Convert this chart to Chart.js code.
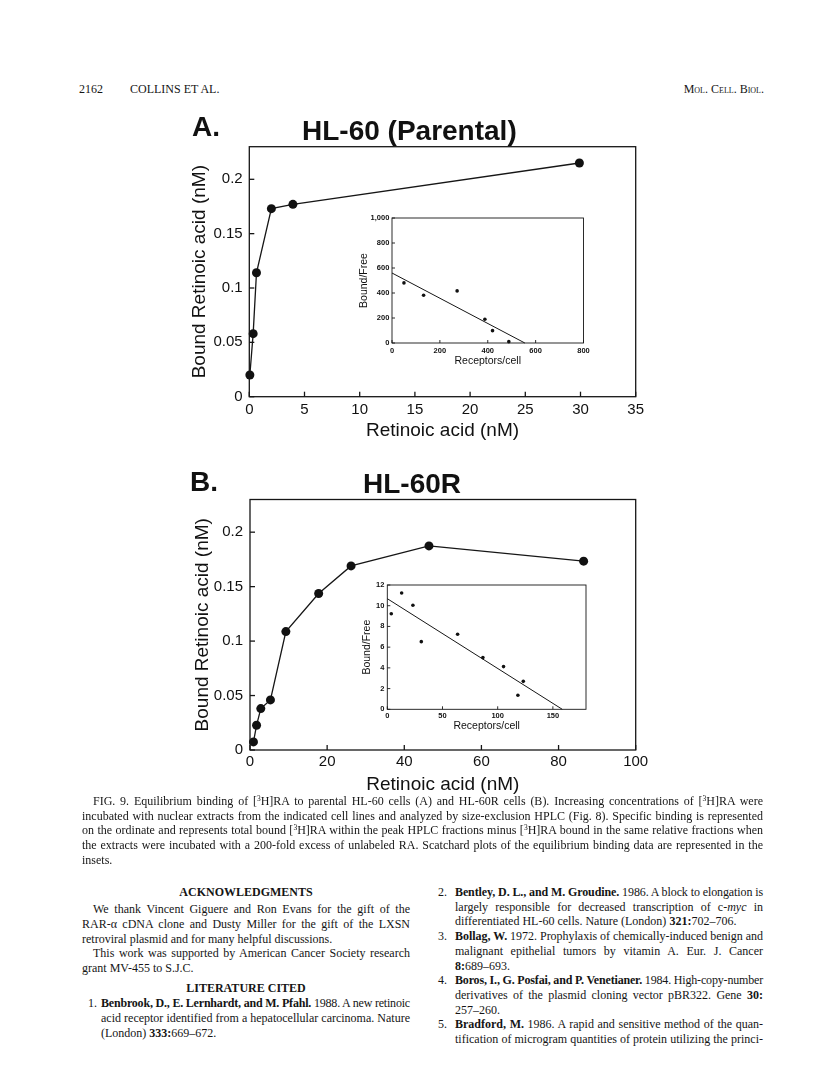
<!DOCTYPE html>
<html><head><meta charset="utf-8">
<script src="https://cdn.jsdelivr.net/npm/chart.js@4.4.0/dist/chart.umd.min.js"></script>
<style>
html,body{margin:0;padding:0;background:#fff;}
body{width:816px;height:1081px;position:relative;overflow:hidden;}
canvas{position:absolute;}
.t{position:absolute;white-space:nowrap;font-family:"Liberation Serif","Times New Roman",serif;font-size:12px;line-height:14px;height:14px;color:#151515;}
.h{position:absolute;white-space:nowrap;font-family:"Liberation Sans",Arial,sans-serif;font-weight:bold;font-size:28px;line-height:28px;color:#111;}
sup{font-size:7.5px;line-height:0;vertical-align:4px;}
.sc{font-variant:small-caps;}
</style></head><body>

<canvas id="cA" width="480" height="305" style="left:170px;top:140px"></canvas>
<canvas id="cB" width="480" height="305" style="left:170px;top:495px"></canvas>
<canvas id="iA" width="256" height="167" style="left:340px;top:208px"></canvas>
<canvas id="iB" width="260" height="165" style="left:340px;top:575px"></canvas>

<div class="h" style="left:192px;top:113px">A.</div>
<div class="h" style="left:302px;top:117px">HL-60 (Parental)</div>
<div class="h" style="left:190px;top:468px">B.</div>
<div class="h" style="left:363px;top:470px">HL-60R</div>

<div class="t" style="left:79px;top:82px">2162</div>
<div class="t" style="left:130px;top:82px">COLLINS ET AL.</div>
<div class="t sc" style="right:52px;top:82px">Mol. Cell. Biol.</div>

<div id="text"></div>

<script>
// ---------------- DATA ----------------
// Panel A: HL-60 (Parental)
const mainAX = [0.05, 0.35, 0.65, 2.0, 3.95, 29.9];
const mainAY = [0.020, 0.058, 0.114, 0.173, 0.177, 0.215];
const mainAXTicks = [0, 5, 10, 15, 20, 25, 30, 35];
const mainYTicks = [0, 0.05, 0.1, 0.15, 0.2];
const mainYTickLabels = ['0', '0.05', '0.1', '0.15', '0.2'];
// Inset A (Scatchard)
const insetAX = [50, 132, 272, 388, 420, 488];
const insetAY = [481, 382, 417, 190, 99, 11];
const insetAFitX = [0, 555];
const insetAFitY = [560, 0];
const insetAXTicks = [0, 200, 400, 600, 800];
const insetAYTicks = [0, 200, 400, 600, 800, 1000];
const insetAYTickLabels = ['0', '200', '400', '600', '800', '1,000'];
// Panel B: HL-60R
const mainBX = [0.9, 1.7, 2.8, 5.3, 9.3, 17.8, 26.2, 46.4, 86.5];
const mainBY = [0.0074, 0.0227, 0.038, 0.046, 0.1087, 0.1437, 0.169, 0.1874, 0.1734];
const mainBXTicks = [0, 20, 40, 60, 80, 100];
// Inset B (Scatchard)
const insetBX = [3.6, 13, 23.2, 30.8, 63.7, 86.6, 105.3, 118.3, 123.2];
const insetBY = [9.23, 11.23, 10.04, 6.53, 7.24, 4.99, 4.12, 1.35, 2.70];
const insetBFitX = [0, 158.5];
const insetBFitY = [10.68, 0];
const insetBXTicks = [0, 50, 100, 150];
const insetBYTicks = [0, 2, 4, 6, 8, 10, 12];

const xTitleMain = 'Retinoic acid (nM)';
const yTitleMain = 'Bound Retinoic acid (nM)';
const xTitleInset = 'Receptors/cell';
const yTitleInset = 'Bound/Free';

// ---------------- CHARTS ----------------
Chart.defaults.font.family = '"Liberation Sans", Arial, sans-serif';
Chart.defaults.color = '#111';

const boxTicks = {
  id: 'boxTicks',
  afterDraw(chart, args, o) {
    const {ctx, chartArea: a, scales: {x, y}} = chart;
    ctx.save();
    ctx.strokeStyle = '#161616';
    ctx.lineWidth = o.width;
    ctx.strokeRect(a.left, a.top, a.right - a.left, a.bottom - a.top);
    ctx.lineWidth = o.tickWidth;
    x.ticks.forEach(t => {
      const p = x.getPixelForValue(t.value);
      ctx.beginPath(); ctx.moveTo(p, a.bottom); ctx.lineTo(p, a.bottom - o.len); ctx.stroke();
    });
    y.ticks.forEach(t => {
      const p = y.getPixelForValue(t.value);
      ctx.beginPath(); ctx.moveTo(a.left, p); ctx.lineTo(a.left + o.len, p); ctx.stroke();
    });
    ctx.restore();
  }
};

function pts(xs, ys) { return xs.map((x, i) => ({x: x, y: ys[i]})); }

function build(id, c) {
  const datasets = [{
    data: pts(c.xs, c.ys), showLine: c.line, borderColor: '#161616', backgroundColor: '#111',
    borderWidth: c.lineW, pointRadius: c.pr, pointBorderWidth: 0, pointHoverRadius: c.pr, clip: false
  }];
  if (c.fitX) datasets.push({
    data: pts(c.fitX, c.fitY), showLine: true, borderColor: '#161616', borderWidth: c.fitW,
    pointRadius: 0, clip: false
  });
  new Chart(document.getElementById(id), {
    type: 'scatter',
    data: {datasets},
    options: {
      responsive: false, animation: false, devicePixelRatio: 1,
      layout: {padding: c.pad},
      plugins: {legend: {display: false}, tooltip: {enabled: false}, boxTicks: {len: c.tl, width: c.bw, tickWidth: c.bw}},
      scales: {
        x: {
          type: 'linear', min: c.xMin, max: c.xMax,
          afterBuildTicks: s => { s.ticks = c.xTicks.map(v => ({value: v})); },
          afterFit: s => { s.height = c.xH; s.paddingLeft = 0; s.paddingRight = 0; },
          grid: {display: false, drawTicks: false}, border: {display: false},
          ticks: {padding: c.xtp, maxRotation: 0, autoSkip: false, font: c.tickFont, color: '#111',
            callback: (v, i) => c.xLabels ? c.xLabels[i] : String(c.xTicks[i])},
          title: {display: true, text: c.xTitle, font: c.titleFont, color: '#111', padding: {top: 0, bottom: c.xTitlePad}}
        },
        y: {
          type: 'linear', min: c.yMin, max: c.yMax,
          afterBuildTicks: s => { s.ticks = c.yTicks.map(v => ({value: v})); },
          afterFit: s => { s.width = c.yW; s.paddingTop = 0; s.paddingBottom = 0; },
          grid: {display: false, drawTicks: false}, border: {display: false},
          ticks: {padding: c.ytp, autoSkip: false, font: c.tickFont, color: '#111',
            callback: (v, i) => c.yLabels ? c.yLabels[i] : String(c.yTicks[i])},
          title: {display: true, text: c.yTitle, font: c.titleFont, color: '#111', padding: {top: c.yTitlePad, bottom: 0}}
        }
      }
    },
    plugins: [boxTicks]
  });
}

build('cA', {xs: mainAX, ys: mainAY, line: true, lineW: 1.3, pr: 4.5,
  xMin: 0, xMax: 35, yMin: 0, yMax: 0.23, xTicks: mainAXTicks, yTicks: mainYTicks, yLabels: mainYTickLabels,
  pad: {top: 6.7, right: 14.3, left: 0, bottom: 0}, yW: 79.3, xH: 48.3,
  tickFont: {size: 15}, titleFont: {size: 19}, xTitle: xTitleMain, yTitle: yTitleMain,
  xTitlePad: 2.6, yTitlePad: 18.6, xtp: 4.3, ytp: 6.6, tl: 5, bw: 1.3});

build('cB', {xs: mainBX, ys: mainBY, line: true, lineW: 1.3, pr: 4.5,
  xMin: 0, xMax: 100, yMin: 0, yMax: 0.23, xTicks: mainBXTicks, yTicks: mainYTicks, yLabels: mainYTickLabels,
  pad: {top: 4.3, right: 14.3, left: 0, bottom: 0}, yW: 80, xH: 50,
  tickFont: {size: 15}, titleFont: {size: 19}, xTitle: xTitleMain, yTitle: yTitleMain,
  xTitlePad: 4, yTitlePad: 21.1, xtp: 2.7, ytp: 7, tl: 5, bw: 1.3});

build('iA', {xs: insetAX, ys: insetAY, line: false, lineW: 0, pr: 1.8, fitX: insetAFitX, fitY: insetAFitY, fitW: 1,
  xMin: 0, xMax: 800, yMin: 0, yMax: 1000, xTicks: insetAXTicks, yTicks: insetAYTicks, yLabels: insetAYTickLabels,
  pad: {top: 10, right: 12.5, left: 0, bottom: 0}, yW: 52, xH: 32,
  tickFont: {size: 7.5, weight: 'bold'}, titleFont: {size: 10.5}, xTitle: xTitleInset, yTitle: yTitleInset,
  xTitlePad: 7.9, yTitlePad: 18.2, xtp: 3.2, ytp: 2.7, tl: 3, bw: 0.9});

build('iB', {xs: insetBX, ys: insetBY, line: false, lineW: 0, pr: 1.8, fitX: insetBFitX, fitY: insetBFitY, fitW: 1,
  xMin: 0, xMax: 180, yMin: 0, yMax: 12, xTicks: insetBXTicks, yTicks: insetBYTicks,
  pad: {top: 10, right: 14, left: 0, bottom: 0}, yW: 47.3, xH: 30.7,
  tickFont: {size: 7.5, weight: 'bold'}, titleFont: {size: 10.5}, xTitle: xTitleInset, yTitle: yTitleInset,
  xTitlePad: 7.2, yTitlePad: 20.9, xtp: 2.2, ytp: 3, tl: 3, bw: 0.9});

// ---------------- PAGE TEXT ----------------
const S = '<sup>3</sup>';
const lines = [
  [93, 763, 801, 'FIG. 9. Equilibrium binding of ['+S+'H]RA to parental HL-60 cells (A) and HL-60R cells (B). Increasing concentrations of ['+S+'H]RA were', true],
  [82, 763, 815.7, 'incubated with nuclear extracts from the indicated cell lines and analyzed by size-exclusion HPLC (Fig. 8). Specific binding is represented', true],
  [82, 763, 830.4, 'on the ordinate and represents total bound ['+S+'H]RA within the peak HPLC fractions minus ['+S+'H]RA bound in the same relative fractions when', true],
  [82, 763, 845.1, 'the extracts were incubated with a 200-fold excess of unlabeled RA. Scatchard plots of the equilibrium binding data are represented in the', true],
  [82, null, 859.8, 'insets.', false],

  [93, 410, 909.3, 'We thank Vincent Giguere and Ron Evans for the gift of the', true],
  [82, 410, 924, 'RAR-α cDNA clone and Dusty Miller for the gift of the LXSN', true],
  [82, null, 938.7, 'retroviral plasmid and for many helpful discussions.', false],
  [93, 410, 953.4, 'This work was supported by American Cancer Society research', true],
  [82, null, 968.1, 'grant MV-455 to S.J.C.', false],
  [101, 410, 1003.3, '<b>Benbrook, D., E. Lernhardt, and M. Pfahl.</b> 1988. A new retinoic', true],
  [101, 410, 1018, 'acid receptor identified from a hepatocellular carcinoma. Nature', true],
  [101, null, 1032.7, '(London) <b>333:</b>669–672.', false],

  [455, 763, 892, '<b>Bentley, D. L., and M. Groudine.</b> 1986. A block to elongation is', true],
  [455, 763, 906.7, 'largely responsible for decreased transcription of c-<i>myc</i> in', true],
  [455, null, 921.4, 'differentiated HL-60 cells. Nature (London) <b>321:</b>702–706.', false],
  [455, 763, 936.1, '<b>Bollag, W.</b> 1972. Prophylaxis of chemically-induced benign and', true],
  [455, 763, 950.8, 'malignant epithelial tumors by vitamin A. Eur. J. Cancer', true],
  [455, null, 965.5, '<b>8:</b>689–693.', false],
  [455, 763, 980.2, '<b>Boros, I., G. Posfai, and P. Venetianer.</b> 1984. High-copy-number', true],
  [455, 763, 994.9, 'derivatives of the plasmid cloning vector pBR322. Gene <b>30:</b>', true],
  [455, null, 1009.6, '257–260.', false],
  [455, 763, 1024.3, '<b>Bradford, M.</b> 1986. A rapid and sensitive method of the quan-', true],
  [455, 763, 1039, 'tification of microgram quantities of protein utilizing the princi-', true]
];
const nums = [
  [97, 1003.3, '1.'], [447, 892, '2.'], [447, 936.1, '3.'], [447, 980.2, '4.'], [447, 1024.3, '5.']
];
const heads = [[246, 891.7, 'ACKNOWLEDGMENTS'], [246, 987.7, 'LITERATURE CITED']];

const host = document.getElementById('text');
lines.forEach(([l, r, cy, html, j]) => {
  const d = document.createElement('div');
  d.className = 't';
  d.style.left = l + 'px';
  d.style.top = (cy - 7) + 'px';
  d.innerHTML = html;
  host.appendChild(d);
  if (j) {
    const target = r - l;
    const nat = d.getBoundingClientRect().width;
    const extra = target - nat;
    const sp = (d.textContent.match(/ /g) || []).length;
    if (extra >= 0) {
      if (sp) d.style.wordSpacing = (extra / sp) + 'px';
    } else {
      d.style.letterSpacing = (extra / d.textContent.length) + 'px';
    }
  }
});
nums.forEach(([r, cy, s]) => {
  const d = document.createElement('div');
  d.className = 't';
  d.style.right = (816 - r) + 'px';
  d.style.top = (cy - 7) + 'px';
  d.textContent = s;
  host.appendChild(d);
});
heads.forEach(([cx, cy, s]) => {
  const d = document.createElement('div');
  d.className = 't';
  d.style.fontWeight = 'bold';
  d.style.top = (cy - 7) + 'px';
  d.textContent = s;
  host.appendChild(d);
  const w = d.getBoundingClientRect().width;
  d.style.left = (cx - w / 2) + 'px';
});
</script>
</body></html>
